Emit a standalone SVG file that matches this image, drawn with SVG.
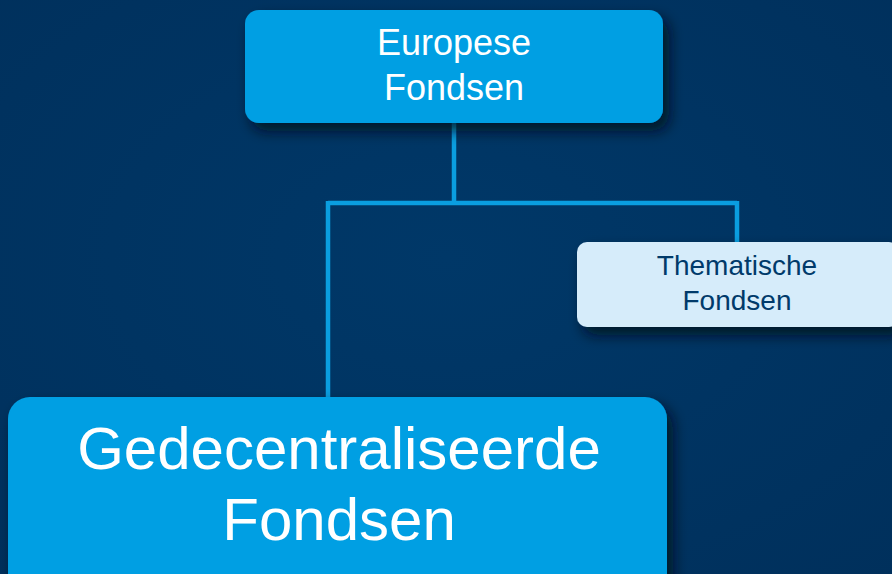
<svg xmlns="http://www.w3.org/2000/svg" width="892" height="574" viewBox="0 0 892 574">
<defs>
<radialGradient id="bg" cx="50%" cy="45%" r="75%">
<stop offset="0" stop-color="#003868"/>
<stop offset="1" stop-color="#00305c"/>
</radialGradient>
<filter id="sh" x="-20%" y="-20%" width="150%" height="160%">
<feDropShadow dx="6" dy="8" stdDeviation="7" flood-color="#000814" flood-opacity="0.8"/>
</filter>
</defs>
<style>
.box{fill:#009fe3;filter:url(#sh)}
.light{fill:#d6ecfa;filter:url(#sh)}
.t{font-family:"Liberation Sans",Arial,sans-serif;text-anchor:middle;fill:#ffffff}
.td{font-family:"Liberation Sans",Arial,sans-serif;text-anchor:middle;fill:#003a6a}
.c{fill:none;stroke:#0a9ee0;stroke-width:4.5}
</style>
<rect width="892" height="574" fill="url(#bg)"/>
<g id="connectors">
<path class="c" d="M454 123 V203 M328 203 H737 M328 201 V398 M737 201 V242"/>
</g>
<g id="node-europese">
<rect class="box" x="245" y="10" width="418" height="113" rx="14"/>
<text class="t" x="454" y="55" font-size="36">Europese</text>
<text class="t" x="454" y="100" font-size="36">Fondsen</text>
</g>
<g id="node-thematische">
<rect class="light" x="577" y="242" width="322" height="85" rx="10"/>
<text class="td" x="737" y="275" font-size="28">Thematische</text>
<text class="td" x="737" y="310" font-size="28">Fondsen</text>
</g>
<g id="node-gedecentraliseerde">
<rect class="box" x="8" y="397" width="659" height="200" rx="22"/>
<text class="t" x="339" y="469" font-size="60">Gedecentraliseerde</text>
<text class="t" x="339" y="540" font-size="60">Fondsen</text>
</g>
</svg>
